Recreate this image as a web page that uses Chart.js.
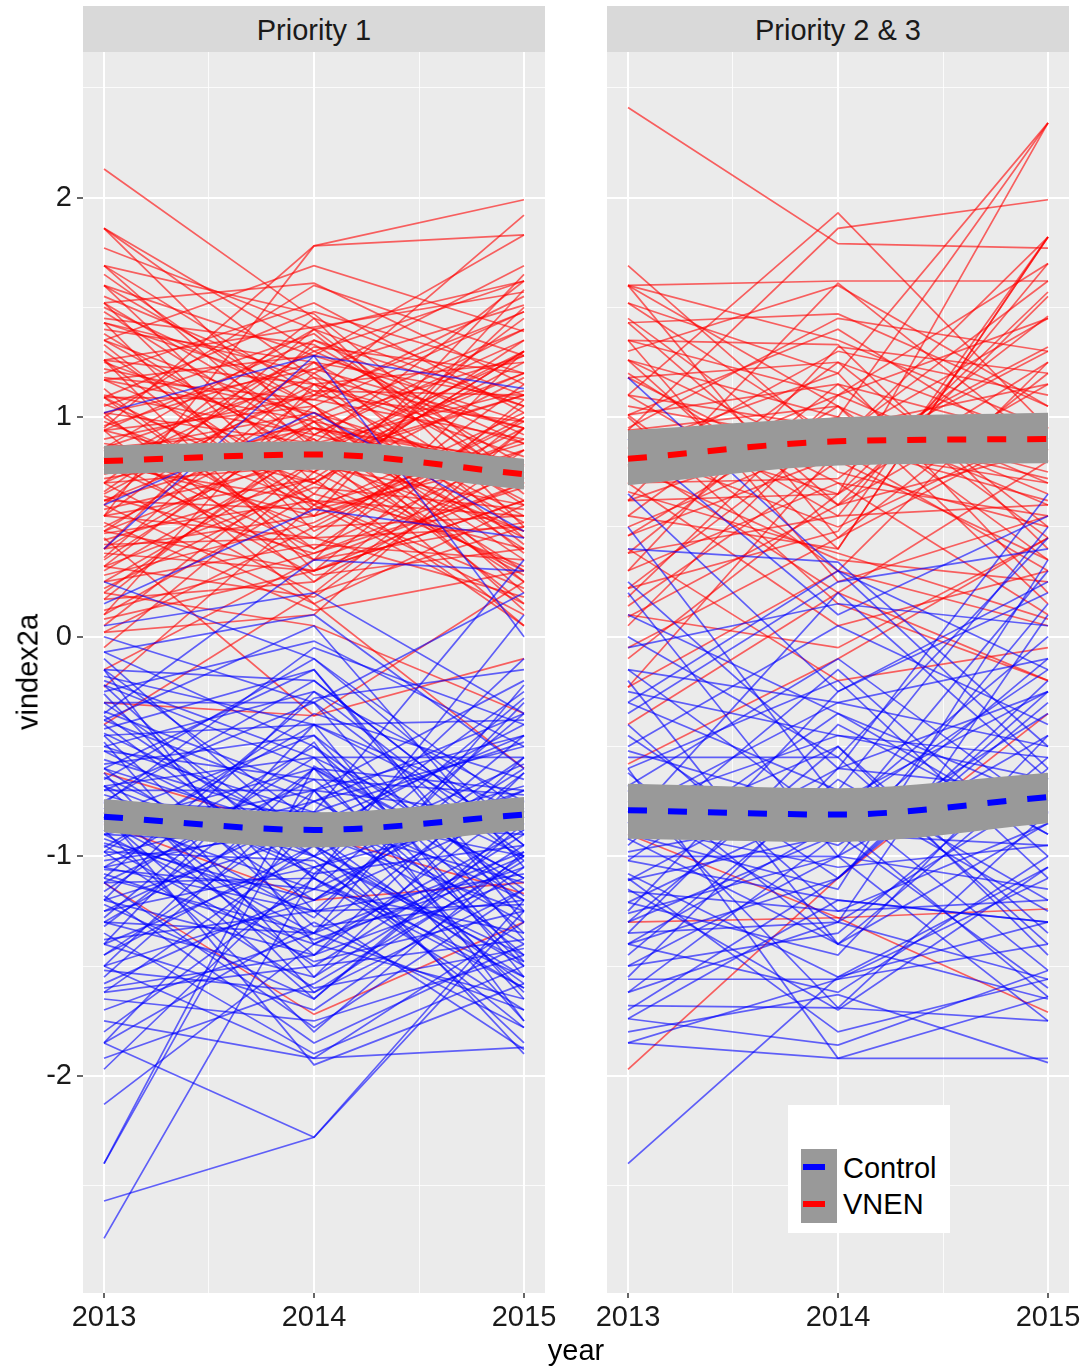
<!DOCTYPE html>
<html>
<head>
<meta charset="utf-8">
<script src="https://cdn.jsdelivr.net/npm/chart.js@4.4.1/dist/chart.umd.min.js"></script>
<style>
  body { margin: 0; width: 1086px; height: 1371px; background: #fff; position: relative; overflow: hidden;
         font-family: "Liberation Sans", Arial, sans-serif; color: #1a1a1a; }
  .strip { position: absolute; top: 6px; height: 46px; width: 462px; background: #d9d9d9;
           font-size: 29px; line-height: 48px; text-align: center; color: #1a1a1a; }
  canvas { position: absolute; top: 52px; }
  #ytitle { position: absolute; left: 28px; top: 672px; font-size: 29px; color: #000; white-space: nowrap;
            transform: translate(-50%, -50%) rotate(-90deg); }
  #xtitle { position: absolute; left: 576px; top: 1350px; font-size: 29px; color: #000;
            transform: translate(-50%, -50%); }
  #legend { position: absolute; left: 788px; top: 1105px; width: 162px; height: 128px; background: #fff; }
  .key { position: absolute; left: 13px; width: 36px; height: 37px; background: #999999; }
  .key span { position: absolute; left: 2px; top: 15px; width: 22px; height: 6px; }
  .lab { position: absolute; left: 55px; font-size: 29px; line-height: 34px; color: #000; transform: translateY(-50%); }
</style>
</head>
<body>
<div class="strip" style="left:83px">Priority 1</div>
<div class="strip" style="left:607px">Priority 2 &amp; 3</div>
<canvas id="panel1" width="562" height="1291" style="left:0px"></canvas>
<canvas id="panel2" width="519" height="1291" style="left:567px"></canvas>
<div id="ytitle">vindex2a</div>
<div id="xtitle">year</div>
<div id="legend">
  <div class="key" style="top:44px"><span style="background:#0000ff"></span></div>
  <div class="key" style="top:81px"><span style="background:#ff0000"></span></div>
  <div class="lab" style="top:63px">Control</div>
  <div class="lab" style="top:99px">VNEN</div>
</div>
<script>
const years = [2013, 2014, 2015];
const xTicks = [2013, 2013.5, 2014, 2014.5, 2015];
const yTicks = [-2.5, -2, -1.5, -1, -0.5, 0, 0.5, 1, 1.5, 2, 2.5];

// one row per school: [2013, 2014, 2015]
const p1Vnen = [
  [2.13, 1.45, 1.10], [1.86, 1.30, 1.62], [1.86, 1.18, 0.95], [1.86, 0.92, 1.40], [1.77, 1.40, 1.05],
  [1.69, 1.10, 1.92], [1.69, 0.85, 1.20], [1.69, 1.47, 0.70], [1.60, 1.28, 1.83], [1.60, 0.70, 1.30],
  [1.60, 1.05, 0.55], [1.52, 1.61, 1.15], [1.52, 0.95, 0.80], [1.52, 0.60, 1.50], [1.43, 1.20, 1.69],
  [1.43, 0.48, 0.95], [1.43, 1.12, 0.62], [1.35, 1.69, 1.39], [1.35, 0.82, 1.10], [1.35, 1.00, 0.40],
  [1.26, 1.41, 1.57], [1.26, 0.55, 0.85], [1.26, 1.15, 1.25], [1.26, 0.30, 0.70], [1.17, 1.28, 0.98],
  [1.17, 0.75, 1.45], [1.17, 0.98, 0.35], [1.09, 1.48, 1.20], [1.09, 0.62, 0.55], [1.09, 1.08, 0.90],
  [1.09, 0.40, 1.05], [1.02, 1.22, 1.51], [1.02, 0.88, 0.48], [1.02, 0.25, 0.78], [0.94, 1.35, 0.92],
  [0.94, 0.70, 1.18], [0.94, 1.05, 0.25], [0.94, 0.15, 0.60], [0.86, 1.40, 1.62], [0.86, 0.95, 0.70],
  [0.86, 0.50, 1.00], [0.86, 1.18, 0.42], [0.78, 0.82, 1.30], [0.78, 1.30, 0.88], [0.78, 0.35, 0.52],
  [0.78, 0.62, 0.15], [0.70, 1.12, 1.10], [0.70, 0.78, 0.60], [0.70, 0.20, 0.95], [0.70, 1.45, 0.50],
  [0.62, 1.00, 1.40], [0.62, 0.58, 0.80], [0.62, 0.90, 0.30], [0.55, 1.25, 0.72], [0.55, 0.45, 1.15],
  [0.55, 0.72, 0.05], [0.48, 1.10, 0.98], [0.48, 0.30, 0.62], [0.48, 0.85, 1.28], [0.40, 0.95, 0.45],
  [0.40, 0.55, 0.90], [0.40, 1.35, 1.05], [0.32, 0.68, 0.58], [0.32, 1.05, 0.20], [0.32, 0.18, 0.85],
  [0.25, 0.80, 1.20], [0.25, 0.42, 0.35], [0.17, 0.92, 0.68], [0.17, 0.25, 1.00], [0.10, 0.65, 0.40],
  [0.10, 1.15, 0.82], [0.02, 0.50, 0.55], [0.02, 0.10, 0.95], [-0.05, 0.75, 0.30], [-0.15, 0.35, 0.70],
  [-0.23, 0.60, 0.10], [-0.40, 0.20, 0.50], [-0.30, -0.36, 0.25], [0.45, -0.36, -0.10], [0.20, 0.05, -0.35],
  [0.60, 0.15, -0.60], [0.95, 1.78, 1.99], [0.55, 1.78, 1.83], [-0.62, -0.90, -1.17], [-1.12, -1.72, -1.30],
  [-0.85, -1.20, -1.12], [1.48, 0.88, 1.12], [1.40, 1.25, 0.45], [1.30, 0.65, 1.65], [1.22, 1.02, 0.72],
  [1.13, 0.35, 1.30], [1.05, 1.38, 0.65], [0.98, 0.60, 0.88], [0.90, 1.10, 1.48], [0.82, 0.28, 0.40],
  [0.74, 0.95, 0.78], [0.66, 1.32, 1.20], [0.58, 0.80, 0.48], [0.52, 0.12, 0.30], [0.44, 0.72, 1.35],
  [0.36, 1.20, 0.60], [0.28, 0.52, 0.98], [0.20, 0.88, 0.25], [0.12, 0.38, 0.75], [0.05, 0.80, 1.10],
  [1.55, 1.15, 0.88], [1.38, 0.80, 0.28], [1.20, 1.52, 1.02], [1.00, 0.45, 0.18], [0.88, 0.75, 1.25],
  [0.76, 1.22, 0.95], [0.64, 0.38, 0.68], [0.50, 0.98, 0.12], [0.38, 0.30, 1.08], [0.84, 1.02, 0.52],
  [1.10, 0.92, 1.35], [1.65, 0.98, 1.28], [1.45, 1.33, 0.78], [1.33, 0.58, 1.02], [1.18, 1.08, 1.55],
  [1.06, 0.70, 0.32], [0.96, 1.25, 1.08], [0.85, 0.40, 0.85], [0.72, 0.88, 1.62], [0.60, 1.40, 0.68],
  [0.47, 0.62, 0.22], [0.35, 0.98, 0.78], [0.22, 0.70, 1.30], [0.08, 0.30, 0.62], [1.25, 0.90, 0.15],
  [1.00, 1.60, 1.28], [0.80, 0.55, 1.58], [0.65, 1.15, 0.38], [0.42, 0.45, 0.50], [1.50, 1.05, 1.48],
  [0.30, 0.85, 0.05]
];

const p1Control = [
  [-2.74, -1.08, -0.95], [-2.57, -2.28, -1.25], [-2.40, -0.59, -1.10], [-2.40, -0.70, -0.45], [-2.13, -1.40, -1.65],
  [-1.97, -1.05, -0.80], [-1.85, -1.30, -1.78], [-1.85, -0.85, -1.40], [-1.85, -2.28, -1.20], [-1.75, -1.92, -1.87],
  [-1.50, -1.92, -1.30], [-1.62, -1.50, -0.90], [-1.62, -0.95, -1.55], [-1.50, -1.20, -0.60], [-1.50, -0.60, -1.20],
  [-1.40, -1.70, -1.05], [-1.40, -1.00, -1.48], [-1.40, -0.40, -0.80], [-1.30, -1.35, -1.70], [-1.30, -0.75, -0.35],
  [-1.30, -1.55, -0.95], [-1.20, -0.90, -1.25], [-1.20, -1.45, -0.55], [-1.20, -0.25, -1.00], [-1.12, -1.10, -1.60],
  [-1.12, -0.65, -0.72], [-1.12, -1.78, -1.15], [-1.05, -0.50, -1.35], [-1.05, -1.25, -0.45], [-1.05, -0.85, -0.90],
  [-0.98, -1.60, -1.42], [-0.98, -0.35, -0.65], [-0.98, -1.02, -1.78], [-0.90, -0.70, -0.20], [-0.90, -1.38, -1.05],
  [-0.90, -0.95, -1.50], [-0.82, -1.15, -0.70], [-0.82, -0.45, -1.18], [-0.82, -1.65, -0.85], [-0.75, -0.80, -1.30],
  [-0.75, -1.28, -0.30], [-0.75, -0.20, -0.95], [-0.68, -1.05, -1.60], [-0.68, -0.55, -0.55], [-0.68, -1.45, -1.10],
  [-0.60, -0.90, -0.40], [-0.60, -0.15, -1.25], [-0.60, -1.20, -0.78], [-0.52, -0.65, -1.45], [-0.52, -1.00, -0.10],
  [-0.45, -0.40, -0.88], [-0.45, -1.32, -1.20], [-0.38, -0.75, -0.50], [-0.38, 0.05, -1.05], [-0.30, -0.95, -0.25],
  [-0.30, -0.30, -1.38], [-0.22, -0.60, -0.70], [-0.22, -1.10, 0.10], [-0.15, -0.20, -0.95], [-0.15, -0.85, -0.45],
  [-0.07, 0.10, -0.60], [-0.07, -0.50, -1.15], [0.00, -0.30, 0.20], [0.05, 0.20, -0.35], [0.25, -0.10, -0.80],
  [0.60, 1.02, 0.48], [1.02, 1.28, 1.13], [0.40, 1.28, 0.00], [0.15, 0.58, 0.45], [-0.35, 0.35, 0.30],
  [-1.58, -1.15, -1.35], [-1.45, -0.80, -1.00], [-1.35, -1.90, -1.50], [-1.25, -1.05, -0.70], [-1.16, -0.55, -1.50],
  [-1.08, -1.40, -1.00], [-1.00, -0.75, -1.20], [-0.94, -1.20, -0.55], [-0.86, -0.60, -1.65], [-0.78, -1.50, -1.38],
  [-0.70, -0.30, -1.02], [-0.64, -1.08, -0.28], [-0.56, -0.85, -1.12], [-0.48, -1.55, -0.62], [-0.42, -0.15, -1.30],
  [-0.34, -0.70, -0.82], [-0.26, -1.25, -1.08], [-0.18, -0.40, -0.38], [-0.10, -0.95, -0.68], [-1.70, -1.35, -0.98],
  [-1.55, -0.70, -1.62], [-1.38, -1.25, -1.22], [-1.22, -1.65, -0.82], [-1.02, -0.88, -1.90], [-0.88, -1.80, -0.98],
  [-0.72, -1.00, -0.58], [-0.58, -0.45, -1.48], [-0.40, -1.10, -1.70], [-0.25, -0.02, -0.50], [-1.92, -1.58, -1.02],
  [-1.65, -1.75, -1.45], [-1.10, -0.28, -0.15], [-0.95, -1.48, -1.25], [-0.50, -0.80, 0.35], [-1.28, -0.48, -1.75],
  [-0.80, -1.95, -1.58], [-0.65, -0.10, -0.90], [-1.80, -1.10, -1.55], [-1.60, -1.45, -0.75], [-1.45, -0.95, -1.85],
  [-1.32, -0.60, -1.10], [-1.18, -1.85, -1.40], [-1.06, -1.15, -0.35], [-0.96, -0.40, -1.55], [-0.84, -1.35, -0.62],
  [-0.70, -0.70, -1.75], [-0.62, -1.62, -1.00], [-0.50, -0.25, -0.75], [-0.36, -1.00, -1.45], [-0.20, -0.55, -1.00],
  [-1.52, -1.62, -1.15], [-1.25, -0.80, -0.48], [-0.92, -1.25, -1.88], [-0.76, -0.05, -0.40], [-0.44, -0.90, -1.58],
  [-1.10, -1.35, -0.22], [-0.15, -1.40, -0.88]
];

const p2Vnen = [
  [2.41, 1.79, 1.77], [1.69, 0.85, 0.30], [1.60, 1.62, 1.62], [1.60, 1.05, 0.65], [1.60, 0.45, 1.20],
  [1.60, 1.35, 0.95], [1.52, 0.90, 1.45], [1.52, 1.20, 0.20], [1.43, 1.47, 1.05], [1.43, 0.60, 0.85],
  [1.35, 1.10, 1.70], [1.35, 0.25, 0.55], [1.35, 1.33, 0.40], [1.26, 0.80, 1.30], [1.26, 1.00, 0.75],
  [1.26, 0.40, 1.82], [1.18, 1.25, 0.90], [1.18, 0.70, 0.10], [1.10, 1.93, 0.95], [1.10, 0.95, 1.15],
  [1.10, 0.55, 0.60], [1.01, 1.40, 0.80], [1.01, 0.30, 1.25], [1.01, 1.15, 0.45], [0.94, 1.86, 1.99],
  [0.94, 0.65, 1.57], [0.94, 1.05, 0.35], [0.86, 1.20, 2.34], [0.86, 0.50, 0.95], [0.86, 0.88, 0.62],
  [0.78, 1.00, 2.34], [0.78, 1.30, 1.10], [0.78, 0.35, 0.25], [0.70, 0.72, 1.46], [0.70, 1.10, 0.70],
  [0.62, 0.65, 2.34], [0.62, 0.95, 1.00], [0.62, 1.61, 0.85], [0.55, 0.40, 1.82], [0.55, 1.25, 0.50],
  [0.46, 0.82, 1.32], [0.46, 1.05, 0.15], [0.38, 0.55, 1.70], [0.38, 1.15, 0.90], [0.30, 0.70, 0.55],
  [0.30, 1.32, 1.20], [0.22, 0.95, 0.72], [0.22, 0.48, 1.82], [0.14, 0.80, 0.35], [0.09, 0.60, 1.15],
  [0.05, 1.00, 0.60], [-0.05, 0.45, 0.95], [-0.23, 0.30, 0.05], [-0.23, 0.85, 0.70], [-0.58, -0.10, 0.45],
  [-0.40, 0.20, -0.20], [-1.97, -1.10, -0.35], [-1.30, -1.28, -1.24], [-0.90, -1.28, -1.71], [0.40, -0.20, -0.05],
  [0.70, 0.05, 0.30], [1.00, 0.15, -0.20], [1.20, 0.60, 1.55], [0.95, 1.45, 1.30], [0.50, 0.90, 1.62],
  [1.45, 0.75, 0.50], [0.18, 1.10, 1.45], [0.82, 0.20, 0.80], [1.30, 1.60, 1.05], [0.66, 0.38, 0.08],
  [0.10, -0.05, 0.45], [-0.10, 0.65, 1.25], [1.05, 0.88, 1.82]
];

const p2Control = [
  [1.18, 0.30, -0.15], [0.90, 0.10, 0.55], [0.65, -0.25, 0.20], [0.40, 0.34, -0.50], [0.25, -0.60, 0.65],
  [0.10, -0.35, -0.90], [-0.05, 0.15, 0.05], [-0.15, -0.85, 0.30], [-0.25, -0.45, -0.65], [-0.35, 0.25, 0.40],
  [-0.45, -1.10, -0.20], [-0.55, -0.55, 0.45], [-0.60, -0.20, -1.10], [-0.68, -0.95, -0.35], [-0.68, -0.10, -0.80],
  [-0.75, -1.30, 0.10], [-0.80, -0.70, -1.25], [-0.80, -0.30, -0.50], [-0.86, -1.05, -0.95], [-0.92, -0.50, -1.45],
  [-0.92, -1.40, -0.60], [-0.98, -0.80, 0.00], [-1.02, -1.20, -1.30], [-1.02, -0.35, -0.75], [-1.08, -1.55, -1.05],
  [-1.11, -0.90, -1.60], [-1.11, -0.60, -0.25], [-1.16, -1.25, -0.85], [-1.21, -0.75, -1.52], [-1.21, -1.45, -0.45],
  [-1.26, -1.00, -1.15], [-1.30, -0.50, -1.35], [-1.35, -1.30, -0.70], [-1.40, -0.85, -1.64], [-1.40, -1.62, -1.00],
  [-1.40, -1.10, -0.30], [-1.45, -0.65, -1.20], [-1.50, -1.35, -0.55], [-1.50, -1.00, -1.75], [-1.56, -1.56, -1.40],
  [-1.62, -0.90, -0.95], [-1.62, -1.30, -1.56], [-1.68, -1.69, -0.80], [-1.74, -1.20, -1.30], [-1.74, -1.86, -1.52],
  [-1.80, -1.63, -1.94], [-1.85, -1.56, -1.10], [-1.85, -1.92, -1.64], [-2.40, -1.55, -1.30], [-0.60, -1.92, -1.92],
  [-1.10, -1.80, -1.56], [-0.70, -1.69, -1.75], [-0.20, -1.40, -0.85], [0.50, -0.75, -0.25], [0.20, -1.00, 0.15],
  [-0.50, 0.05, -0.40], [-0.30, -0.70, 0.50], [-0.85, 0.20, -0.65], [-1.25, -0.25, 0.25], [-0.40, -1.25, -1.20],
  [-1.00, -1.00, -0.45], [-0.15, -0.30, -0.10], [-0.90, -1.15, 0.35], [-1.35, -0.40, -0.90], [0.00, -0.55, -1.40],
  [-0.52, -0.80, -0.15], [-1.15, -1.70, -1.05], [-0.78, -0.45, -0.55], [-1.55, -0.60, -0.70], [-0.30, 0.30, -0.60],
  [-1.70, -1.10, -0.25], [-0.95, -0.15, -1.00], [-0.62, -1.40, -1.65], [-1.30, -0.90, -0.10]
];

// smoothed group means with their confidence bands
const p1VnenMean = [0.80, 0.83, 0.74];
const p1VnenLow = [0.74, 0.76, 0.67];
const p1VnenHigh = [0.87, 0.89, 0.81];
const p1ControlMean = [-0.82, -0.88, -0.81];
const p1ControlLow = [-0.89, -0.96, -0.88];
const p1ControlHigh = [-0.74, -0.80, -0.73];
const p2VnenMean = [0.81, 0.89, 0.90];
const p2VnenLow = [0.69, 0.78, 0.79];
const p2VnenHigh = [0.94, 1.00, 1.02];
const p2ControlMean = [-0.79, -0.81, -0.73];
const p2ControlLow = [-0.92, -0.935, -0.85];
const p2ControlHigh = [-0.67, -0.69, -0.62];

const fontFamily = "'Liberation Sans', Arial, sans-serif";

function toPoints(vals) {
  return vals.map((v, i) => ({ x: years[i], y: v }));
}

function buildDatasets(vnen, control, bands) {
  const sets = [];
  vnen.forEach(v => sets.push({
    data: toPoints(v), borderColor: "rgba(255,0,0,0.6)", borderWidth: 1.7, pointRadius: 0, order: 5
  }));
  control.forEach(v => sets.push({
    data: toPoints(v), borderColor: "rgba(0,0,255,0.6)", borderWidth: 1.7, pointRadius: 0, order: 4
  }));
  bands.forEach(b => {
    sets.push({ data: toPoints(b.high), borderWidth: 0, pointRadius: 0, fill: false, order: 2,
                cubicInterpolationMode: "monotone" });
    sets.push({ data: toPoints(b.low), borderWidth: 0, pointRadius: 0, fill: "-1", backgroundColor: "#999999",
                order: 2, cubicInterpolationMode: "monotone" });
    sets.push({ data: toPoints(b.mean), borderColor: b.color, borderWidth: 6, borderDash: [19, 21],
                borderCapStyle: "butt", pointRadius: 0, order: 1, cubicInterpolationMode: "monotone" });
  });
  return sets;
}

// grey panel background like ggplot
const panelBg = {
  id: "panelBg",
  beforeDraw(chart) {
    const a = chart.chartArea;
    const ctx = chart.ctx;
    ctx.save();
    ctx.fillStyle = "#ebebeb";
    ctx.fillRect(a.left, a.top, a.right - a.left, a.bottom - a.top);
    ctx.restore();
  }
};

const isMajor = v => Number.isInteger(v);
const gridColor = c => (c.tick && isMajor(c.tick.value)) ? "#ffffff" : "rgba(255,255,255,0.8)";
const gridWidth = c => (c.tick && isMajor(c.tick.value)) ? 2 : 1;
const tickColor = c => (c.tick && isMajor(c.tick.value)) ? "#333333" : "rgba(0,0,0,0)";

// keep the plot area exactly where the layout puts it
function noPadding(s) {
  s.paddingTop = 0; s.paddingBottom = 0; s.paddingLeft = 0; s.paddingRight = 0;
}

function makePanel(id, datasets, yWidth, showY) {
  return new Chart(document.getElementById(id), {
    type: "line",
    data: { datasets: datasets },
    plugins: [panelBg],
    options: {
      responsive: false,
      animation: false,
      devicePixelRatio: 1,
      layout: { padding: { left: 0, right: 17, top: 0, bottom: 0 }, autoPadding: false },
      plugins: { legend: { display: false }, tooltip: { enabled: false } },
      scales: {
        x: {
          type: "linear", min: 2012.9, max: 2015.1,
          afterBuildTicks: s => { s.ticks = xTicks.map(v => ({ value: v })); },
          afterFit: s => { s.height = 50; noPadding(s); },
          border: { display: false },
          grid: { color: gridColor, lineWidth: gridWidth, tickColor: tickColor, tickLength: 5, tickWidth: 1.5 },
          ticks: {
            autoSkip: false, maxRotation: 0, minRotation: 0, padding: 3, color: "#1a1a1a",
            font: { family: fontFamily, size: 29 },
            callback: v => isMajor(v) ? String(v) : ""
          }
        },
        y: {
          type: "linear", min: -2.989, max: 2.663,
          afterBuildTicks: s => { s.ticks = yTicks.map(v => ({ value: v })); },
          afterFit: s => { s.width = yWidth; noPadding(s); },
          border: { display: false },
          grid: { color: gridColor, lineWidth: gridWidth, tickColor: tickColor, tickLength: 6, tickWidth: 1.5,
                  drawTicks: showY },
          ticks: {
            display: showY, autoSkip: false, padding: 5, color: "#1a1a1a",
            font: { family: fontFamily, size: 29 },
            callback: v => isMajor(v) ? String(v) : ""
          }
        }
      }
    }
  });
}

makePanel("panel1", buildDatasets(p1Vnen, p1Control, [
  { mean: p1VnenMean, low: p1VnenLow, high: p1VnenHigh, color: "#ff0000" },
  { mean: p1ControlMean, low: p1ControlLow, high: p1ControlHigh, color: "#0000ff" }
]), 83, true);

makePanel("panel2", buildDatasets(p2Vnen, p2Control, [
  { mean: p2VnenMean, low: p2VnenLow, high: p2VnenHigh, color: "#ff0000" },
  { mean: p2ControlMean, low: p2ControlLow, high: p2ControlHigh, color: "#0000ff" }
]), 40, false);
</script>
</body>
</html>
